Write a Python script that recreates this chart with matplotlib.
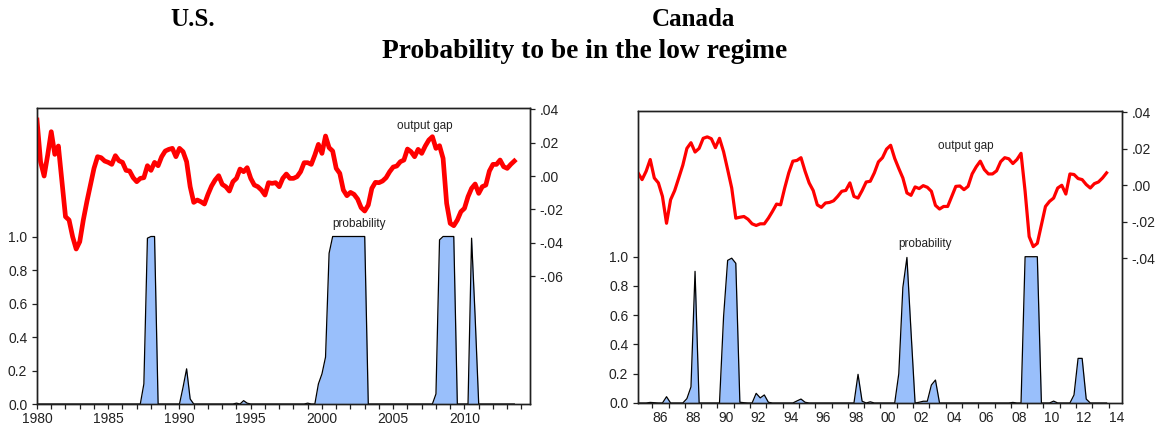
import matplotlib
matplotlib.use("Agg")
import matplotlib.pyplot as plt
import numpy as np

# ---------------- data (quarterly) ----------------
# U.S.: 1980Q1 .. 2013Q3
us_gap = [
    0.0336, 0.0086, 0.0000, 0.0126, 0.0266, 0.0130, 0.0180, -0.0034,
    -0.0244, -0.0264, -0.0364, -0.0438, -0.0394, -0.0264, -0.0154, -0.0054,
    0.0046, 0.0116, 0.0110, 0.0090, 0.0082, 0.0070, 0.0122, 0.0092,
    0.0082, 0.0034, 0.0030, -0.0010, -0.0034, -0.0014, -0.0010, 0.0062,
    0.0034, 0.0082, 0.0062, 0.0116, 0.0150, 0.0160, 0.0166, 0.0116,
    0.0166, 0.0146, 0.0086, -0.0064, -0.0158, -0.0144, -0.0154, -0.0168,
    -0.0110, -0.0060, -0.0024, 0.0002, -0.0050, -0.0064, -0.0090, -0.0034,
    -0.0014, 0.0042, 0.0026, 0.0050, -0.0014, -0.0054, -0.0064, -0.0084,
    -0.0114, -0.0040, -0.0044, -0.0040, -0.0064, -0.0014, 0.0012, -0.0014,
    -0.0014, -0.0004, 0.0026, 0.0080, 0.0080, 0.0070, 0.0126, 0.0190,
    0.0136, 0.0240, 0.0170, 0.0150, 0.0046, 0.0016, -0.0084, -0.0118,
    -0.0098, -0.0110, -0.0138, -0.0190, -0.0210, -0.0174, -0.0074, -0.0038,
    -0.0040, -0.0030, -0.0010, 0.0026, 0.0054, 0.0060, 0.0086, 0.0096,
    0.0162, 0.0146, 0.0116, 0.0160, 0.0136, 0.0180, 0.0216, 0.0236,
    0.0166, 0.0182, 0.0106, -0.0164, -0.0284, -0.0298, -0.0264, -0.0214,
    -0.0194, -0.0124, -0.0074, -0.0048, -0.0104, -0.0064, -0.0054, 0.0030,
    0.0070, 0.0070, 0.0096, 0.0056, 0.0046, 0.0070, 0.0090,
]
us_prob = [
    0, 0, 0, 0, 0, 0, 0, 0, 0, 0, 0, 0, 0, 0, 0, 0,
    0, 0, 0, 0, 0, 0, 0, 0, 0, 0, 0, 0, 0, 0, 0.12, 0.99,
    1.0, 1.0, 0, 0, 0, 0, 0, 0, 0, 0.10, 0.21, 0.03, 0, 0, 0, 0,
    0, 0, 0, 0, 0, 0, 0, 0, 0.005, 0, 0.02, 0.005, 0, 0, 0, 0,
    0, 0, 0, 0, 0, 0, 0, 0, 0, 0, 0, 0, 0.005, 0, 0, 0.12,
    0.18, 0.28, 0.90, 1.0, 1.0, 1.0, 1.0, 1.0, 1.0, 1.0, 1.0, 1.0, 1.0, 0, 0, 0,
    0, 0, 0, 0, 0, 0, 0, 0, 0, 0, 0, 0, 0, 0, 0, 0,
    0.06, 0.98, 1.0, 1.0, 1.0, 1.0, 0, 0, 0, 0, 0.99, 0.52, 0, 0, 0, 0,
    0, 0, 0, 0, 0, 0, 0,
]

# Canada: 1985Q1 .. 2013Q4
ca_gap = [
    0.0068, 0.0031, 0.0077, 0.0141, 0.0040, 0.0013, -0.0061, -0.0208,
    -0.0079, -0.0029, 0.0040, 0.0110, 0.0202, 0.0233, 0.0182, 0.0202,
    0.0257, 0.0265, 0.0255, 0.0206, 0.0257, 0.0184, 0.0086, -0.0015,
    -0.0180, -0.0175, -0.0171, -0.0186, -0.0211, -0.0220, -0.0211, -0.0211,
    -0.0180, -0.0143, -0.0103, -0.0107, -0.0015, 0.0068, 0.0132, 0.0136,
    0.0151, 0.0077, 0.0013, -0.0029, -0.0107, -0.0121, -0.0097, -0.0094,
    -0.0085, -0.0061, -0.0033, -0.0028, 0.0013, -0.0061, -0.0070, -0.0029,
    0.0018, 0.0022, 0.0068, 0.0128, 0.0151, 0.0198, 0.0219, 0.0147,
    0.0092, 0.0040, -0.0042, -0.0055, -0.0009, -0.0018, -0.0002, -0.0011,
    -0.0033, -0.0110, -0.0130, -0.0116, -0.0116, -0.0061, -0.0006, -0.0004,
    -0.0024, -0.0006, 0.0062, 0.0101, 0.0132, 0.0086, 0.0062, 0.0062,
    0.0079, 0.0129, 0.0151, 0.0145, 0.0119, 0.0141, 0.0175, -0.0033,
    -0.0281, -0.0336, -0.0318, -0.0217, -0.0116, -0.0088, -0.0070, -0.0015,
    0.0000, -0.0048, 0.0062, 0.0059, 0.0037, 0.0031, 0.0004, -0.0015,
    0.0009, 0.0018, 0.0040, 0.0068,
]
ca_prob = [
    0, 0, 0, 0.004, 0.002, 0, 0, 0.043, 0, 0, 0, 0, 0.03, 0.11, 0.90, 0,
    0, 0, 0, 0, 0, 0.59, 0.975, 0.99, 0.955, 0.005, 0.002, 0, 0, 0.066, 0.035, 0.055,
    0.005, 0, 0, 0, 0, 0, 0, 0.014, 0.027, 0.005, 0, 0, 0, 0, 0, 0,
    0, 0, 0, 0, 0, 0, 0.196, 0.012, 0, 0.008, 0, 0, 0, 0, 0, 0,
    0.20, 0.79, 0.995, 0.49, 0, 0.005, 0.012, 0.012, 0.123, 0.157, 0, 0, 0, 0, 0, 0,
    0, 0, 0, 0, 0, 0, 0, 0, 0, 0, 0, 0, 0.004, 0, 0, 1.0,
    1.0, 1.0, 1.0, 0, 0, 0, 0.013, 0, 0, 0, 0, 0.055, 0.305, 0.305, 0.027, 0,
    0, 0, 0, 0,
]

us_t = 1980.0 + 0.25 * np.arange(len(us_gap))
ca_t = 1985.125 + 0.25 * np.arange(len(ca_gap))

prob_ticks = [0.0, 0.2, 0.4, 0.6, 0.8, 1.0]
us_gap_ticks = [0.04, 0.02, 0.0, -0.02, -0.04, -0.06]
ca_gap_ticks = [0.04, 0.02, 0.0, -0.02, -0.04]


def gap_label(v):
    s = "%.2f" % v
    return s.replace("0.", ".", 1)


plt.rcParams['font.family'] = ['Liberation Sans', 'DejaVu Sans']
fill_col = '#99BFFB'
W, H = 1161, 425

fig = plt.figure(figsize=(11.61, 4.25), dpi=100)


def style(ax):
    for sp in ax.spines.values():
        sp.set_linewidth(1.0)
        sp.set_color('#202020')
    ax.tick_params(axis='both', which='both', direction='out', length=3.5,
                   width=0.9, color='#202020', labelsize=10, labelcolor='#222222')


# ----- U.S. -----
ax1 = fig.add_axes([37 / W, (H - 404) / H, 493 / W, 296.3 / H])
ax1.fill_between(us_t, 0, us_prob, color=fill_col, lw=0)
ax1.plot(us_t, us_prob, color='black', lw=0.9)
ax1.set_xlim(1980, 2014.6)
ax1.set_ylim(0, 1.769)
ax1.set_yticks(prob_ticks)
ax1.set_yticklabels(["%.1f" % v for v in prob_ticks])
ax1.set_xticks(np.arange(1980, 2011, 5))
ax1.set_xticks(np.arange(1980, 2015, 1), minor=True)
ax1.set_xticklabels([str(y) for y in range(1980, 2011, 5)])
ax1.tick_params(axis='x', which='major', pad=2)
style(ax1)
ax1.text(2002.6, 1.076, "probability", fontsize=8.5, ha='center', va='center', color='#222222')

ax1b = ax1.twinx()
ax1b.plot(us_t, us_gap, color='#FF0000', lw=3.4, solid_joinstyle='round')
ax1b.set_ylim(-0.1368, 0.041)
ax1b.set_yticks(us_gap_ticks)
ax1b.set_yticklabels([gap_label(v) for v in us_gap_ticks])
style(ax1b)
ax1b.text(2007.2, 0.030, "output gap", fontsize=8.5, ha='center', va='center', color='#222222')

# ----- Canada -----
ax2 = fig.add_axes([638 / W, (H - 403) / H, 484 / W, 291.7 / H])
ax2.fill_between(ca_t, 0, ca_prob, color=fill_col, lw=0)
ax2.plot(ca_t, ca_prob, color='black', lw=0.9)
ax2.set_xlim(1985.125, 2014.82)
ax2.set_ylim(0, 1.994)
ax2.set_yticks(prob_ticks)
ax2.set_yticklabels(["%.1f" % v for v in prob_ticks])
ax2.set_xticks(np.arange(1986, 2015, 1))
ax2.set_xticklabels([])
ax2.set_xticks(np.arange(1986, 2015, 2) + 0.5, minor=True)
ax2.set_xticklabels(["%02d" % (y % 100) for y in range(1986, 2015, 2)], minor=True)
style(ax2)
ax2.tick_params(axis='x', which='minor', length=0, pad=5.5)
ax2.text(2002.74, 1.087, "probability", fontsize=8.5, ha='center', va='center', color='#222222')

ax2b = ax2.twinx()
ax2b.plot(ca_t, ca_gap, color='#FF0000', lw=2.3, solid_joinstyle='round')
ax2b.set_ylim(-0.1192, 0.0405)
ax2b.set_yticks(ca_gap_ticks)
ax2b.set_yticklabels([gap_label(v) for v in ca_gap_ticks])
style(ax2b)
ax2b.text(2005.26, 0.0217, "output gap", fontsize=8.5, ha='center', va='center', color='#222222')

# ----- titles -----
tfont = dict(family='Liberation Serif', weight='bold', color='black', ha='center', va='center')
fig.text(193 / W, 1 - 20 / H, "U.S.", fontsize=18, **tfont)
fig.text(693 / W, 1 - 20 / H, "Canada", fontsize=18, **tfont)
fig.text(585 / W, 1 - 52 / H, "Probability to be in the low regime", fontsize=19.8, **tfont)

fig.savefig("out.png", dpi=100)
